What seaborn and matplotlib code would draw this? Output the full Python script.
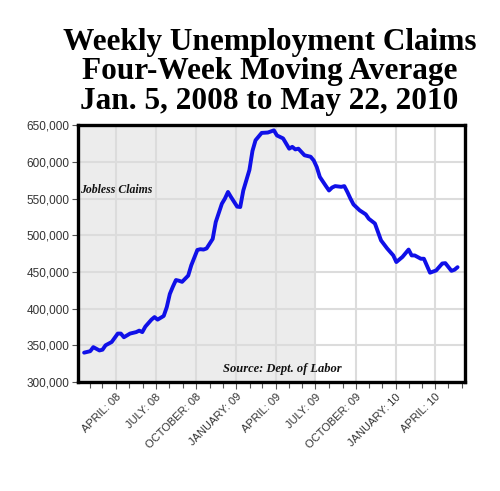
import pandas as pd
import matplotlib
matplotlib.use('Agg')
import matplotlib.pyplot as plt
import matplotlib.dates as mdates
import matplotlib.ticker as mticker
import seaborn as sns

# weeks after Jan 19, 2008 and the 4-week average
weeks = [0, 2, 3, 5, 6, 7, 9, 11, 12, 13, 15, 17, 18, 19, 20, 22, 23, 24, 26, 27,
         28, 29, 30, 31, 32, 34, 35, 37, 38, 39, 40, 42, 43, 45, 46, 47, 48, 50, 51, 52,
         54, 55, 56, 58, 60, 62, 63, 65, 67, 68, 69, 70, 72, 74, 75, 76, 77, 79, 80, 81,
         82, 84, 85, 86, 87, 88, 90, 92, 93, 95, 97, 99, 101, 102, 104, 106, 107, 108, 110, 111,
         113, 115, 117, 118, 120, 121, 122]
claims = [340000, 342000, 347500, 343000, 344000, 350000, 354500, 366000, 366000, 361000,
          366000, 368000, 370000, 368000, 375500, 385000, 388500, 385000, 390000, 402000,
          420000, 430000, 439000, 438000, 436500, 445000, 459000, 480000, 481000, 480500,
          482000, 495000, 518000, 543000, 550000, 559000, 552000, 539000, 538500, 561000,
          589000, 615000, 629500, 639500, 640000, 643000, 636000, 632000, 618000, 620500,
          617000, 618000, 609000, 607000, 602000, 593000, 579500, 567000, 561000, 565000,
          567000, 566000, 567000, 559000, 550000, 542000, 534000, 528500, 522500, 516000,
          493000, 482000, 472500, 463500, 470500, 480500, 472500, 472500, 468000, 468000,
          449000, 452000, 461500, 462000, 451500, 453000, 456500]

title_lines = ['Weekly Unemployment Claims',
               'Four-Week Moving Average',
               'Jan. 5, 2008 to May 22, 2010']

start = pd.Timestamp('2008-01-19')
df = pd.DataFrame({'Week': start + pd.to_timedelta([w * 7 for w in weeks], unit='D'),
                   'Claims': claims})

sns.set_theme(style="white")
plt.rcParams['font.family'] = ['Liberation Sans', 'DejaVu Sans']

fig = plt.figure(figsize=(5, 4.91), dpi=100)
ax = fig.add_axes([0.156, 0.222, 0.774, 0.523])

xmin = pd.Timestamp('2008-01-05')
xmax = pd.Timestamp('2010-06-08')

# recession shading
ax.axvspan(xmin, pd.Timestamp('2009-06-30'), color='#ececec', zorder=0, lw=0)

sns.lineplot(x='Week', y='Claims', data=df, color='#1010e8', linewidth=2.8, ax=ax, zorder=3)

ax.set_xlim(xmin, xmax)
ax.set_ylim(300000, 650000)
ax.set_yticks(range(300000, 650001, 50000))
ax.yaxis.set_major_formatter(mticker.FuncFormatter(lambda v, p: f'{int(v):,}'))

ax.xaxis.set_major_locator(mdates.MonthLocator(bymonth=[1, 4, 7, 10]))
ax.xaxis.set_minor_locator(mdates.MonthLocator())
ax.xaxis.set_major_formatter(mticker.FuncFormatter(
    lambda v, p: mdates.num2date(v).strftime('%B: %y').upper()))

ax.grid(True, which='major', color='#dcdcdc', linewidth=1.5, zorder=1)
ax.set_axisbelow(True)

for s in ax.spines.values():
    s.set_color('black')
    s.set_linewidth(2.4)

ax.tick_params(axis='y', which='major', left=True, length=4, width=0.8, color='#555555',
               labelsize=8.5, labelcolor='#333333', pad=2)
ax.tick_params(axis='x', which='major', bottom=True, length=5, width=0.8, color='#555555',
               labelsize=8, labelcolor='#333333', pad=2)
ax.tick_params(axis='x', which='minor', bottom=True, length=4, width=0.8, color='#555555')
plt.setp(ax.get_xticklabels(), rotation=45, ha='right', rotation_mode='anchor')

ax.set_xlabel('')
ax.set_ylabel('')

ax.text(0.005, 0.735, 'Jobless Claims', transform=ax.transAxes, family='Liberation Serif',
        fontsize=8.5, fontweight='bold', fontstyle='italic', color='#111111', va='baseline')
ax.text(0.529, 0.04, 'Source: Dept. of Labor', transform=ax.transAxes, family='Liberation Serif',
        fontsize=9, fontweight='bold', fontstyle='italic', color='#111111', ha='center',
        va='baseline')

for i, line in enumerate(title_lines):
    fig.text(0.539, 1 - (50 + 29.5 * i) / 491, line, family='Liberation Serif',
             fontsize=22.5, fontweight='bold', ha='center', va='baseline', color='black')

fig.savefig('out.png', dpi=100, facecolor='white')
